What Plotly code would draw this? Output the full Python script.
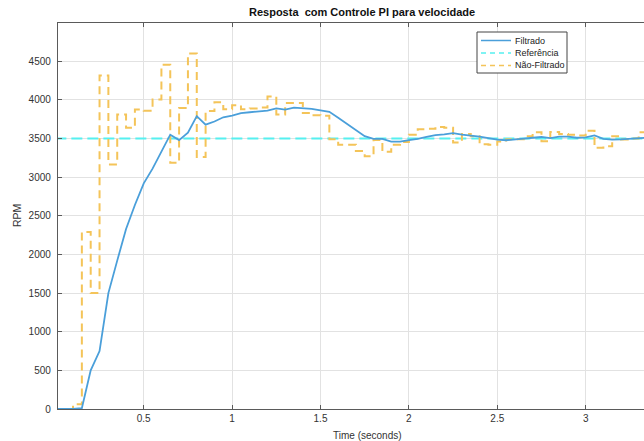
import plotly.graph_objects as go

# ---- data ----
t = [round(0.05 * i, 2) for i in range(68)]  # 0 .. 3.35 s, 0.05 s sample period

filtrado = [0, 0, 0, 10, 500, 750, 1500, 1920, 2330, 2640,
            2920, 3110, 3320, 3550, 3480, 3575, 3790, 3680, 3720, 3775,
            3795, 3830, 3840, 3850, 3860, 3890, 3875, 3900, 3895, 3885,
            3865, 3845, 3770, 3690, 3610, 3530, 3495, 3495, 3460, 3460,
            3480, 3495, 3520, 3545, 3555, 3570, 3550, 3540, 3525, 3505,
            3485, 3478, 3485, 3498, 3510, 3520, 3505, 3525, 3525, 3510,
            3515, 3540, 3495, 3487, 3490, 3500, 3505, 3510]

nao_filtrado = [0, 0, 60, 2290, 1500, 4315, 3165, 3810, 3640, 3875,
                3860, 4005, 4455, 3185, 3895, 4600, 3262, 3855, 3970, 3880,
                3930, 3880, 3890, 3900, 4045, 3810, 3960, 3960, 3830, 3800,
                3795, 3490, 3420, 3420, 3340, 3270, 3480, 3330, 3420, 3455,
                3550, 3620, 3625, 3650, 3640, 3450, 3560, 3530, 3425, 3420,
                3460, 3490, 3490, 3530, 3580, 3465, 3585, 3560, 3550, 3540,
                3600, 3380, 3400, 3530, 3487, 3500, 3580, 3580]

referencia = 3500
x_ticks = [0.5, 1, 1.5, 2, 2.5, 3]
x_tick_labels = ["0.5", "1", "1.5", "2", "2.5", "3"]
y_ticks = [0, 500, 1000, 1500, 2000, 2500, 3000, 3500, 4000, 4500]

title = "Resposta  com Controle PI para velocidade"
x_label = "Time (seconds)"
y_label = "RPM"
legend_names = ["Filtrado", "Referência", "Não-Filtrado"]

# ---- styles ----
C_BLUE = "#4A9FDA"
C_CYAN = "#55F0F0"
C_ORANGE = "#F4C459"
AX = "#5A5A5A"
TXT = "#333333"
GRID = "#E2E2E2"
FONT = "Liberation Sans, Arial, sans-serif"

W, H = 644, 441
ML, MT, MB, MR = 58, 23, 32, 0
PW, PH = W - ML - MR, H - MT - MB


def px_x(p):
    return (p - ML) / PW


def px_y(p):
    return (H - MB - p) / PH


fig = go.Figure()

fig.add_trace(go.Scatter(
    x=[t[0], t[-1]], y=[referencia, referencia], mode="lines",
    line=dict(color=C_CYAN, width=2, dash="11px,5px"),
    name=legend_names[1], showlegend=False, hoverinfo="skip"))

fig.add_trace(go.Scatter(
    x=t, y=nao_filtrado, mode="lines", line_shape="hv",
    line=dict(color=C_ORANGE, width=2, dash="8px,5px"),
    name=legend_names[2], showlegend=False))

fig.add_trace(go.Scatter(
    x=t, y=filtrado, mode="lines",
    line=dict(color=C_BLUE, width=1.8),
    name=legend_names[0], showlegend=False))

fig.update_xaxes(
    range=[0.015, 3.33], tickvals=x_ticks, ticktext=x_tick_labels,
    showgrid=True, gridcolor=GRID, gridwidth=1,
    showline=True, linecolor=AX, linewidth=1.3, mirror="ticks",
    ticks="inside", ticklen=4, tickcolor=AX, zeroline=False,
    tickfont=dict(family=FONT, size=10, color=TXT))

fig.update_yaxes(
    range=[0, 4995], tickvals=y_ticks,
    showgrid=True, gridcolor=GRID, gridwidth=1,
    showline=True, linecolor=AX, linewidth=1.3, mirror=False,
    ticks="inside", ticklen=4, tickcolor=AX, zeroline=False,
    ticklabelstandoff=4,
    tickfont=dict(family=FONT, size=10, color=TXT))

annotations = [
    dict(text="<b>%s</b>" % title, x=px_x(362), y=px_y(12), xref="paper", yref="paper",
         showarrow=False, font=dict(family=FONT, size=11, color="#111111"),
         xanchor="center", yanchor="middle"),
    dict(text=x_label, x=px_x(367), y=px_y(435), xref="paper", yref="paper",
         showarrow=False, font=dict(family=FONT, size=10, color=TXT),
         xanchor="center", yanchor="middle"),
    dict(text=y_label, x=px_x(17), y=px_y(216), xref="paper", yref="paper",
         showarrow=False, textangle=-90, font=dict(family=FONT, size=10.5, color=TXT),
         xanchor="center", yanchor="middle"),
]

# manual compact legend (MATLAB style)
shapes = [dict(type="rect", xref="paper", yref="paper",
               x0=px_x(477), x1=px_x(567), y0=px_y(32), y1=px_y(73),
               line=dict(color="#444444", width=1), fillcolor="white", layer="above")]
leg_y = [40.5, 53, 65.5]
leg_style = [dict(color=C_BLUE, width=1.5),
             dict(color=C_CYAN, width=1.5, dash="5px,4px"),
             dict(color=C_ORANGE, width=1.5, dash="5px,4px")]
for yy, st, nm in zip(leg_y, leg_style, legend_names):
    shapes.append(dict(type="line", xref="paper", yref="paper",
                       x0=px_x(481), x1=px_x(511), y0=px_y(yy), y1=px_y(yy),
                       line=st, layer="above"))
    annotations.append(dict(text=nm, x=px_x(513), y=px_y(yy), xref="paper", yref="paper",
                            showarrow=False, xanchor="left", yanchor="middle",
                            font=dict(family=FONT, size=9, color="#222222")))

fig.update_layout(
    width=W, height=H, margin=dict(l=ML, r=MR, t=MT, b=MB),
    paper_bgcolor="white", plot_bgcolor="white",
    showlegend=False, annotations=annotations, shapes=shapes)

fig.write_html(
    "out.html",
    config={"displayModeBar": False},
    post_script="document.body.style.margin='0';document.body.style.overflow='hidden';")
